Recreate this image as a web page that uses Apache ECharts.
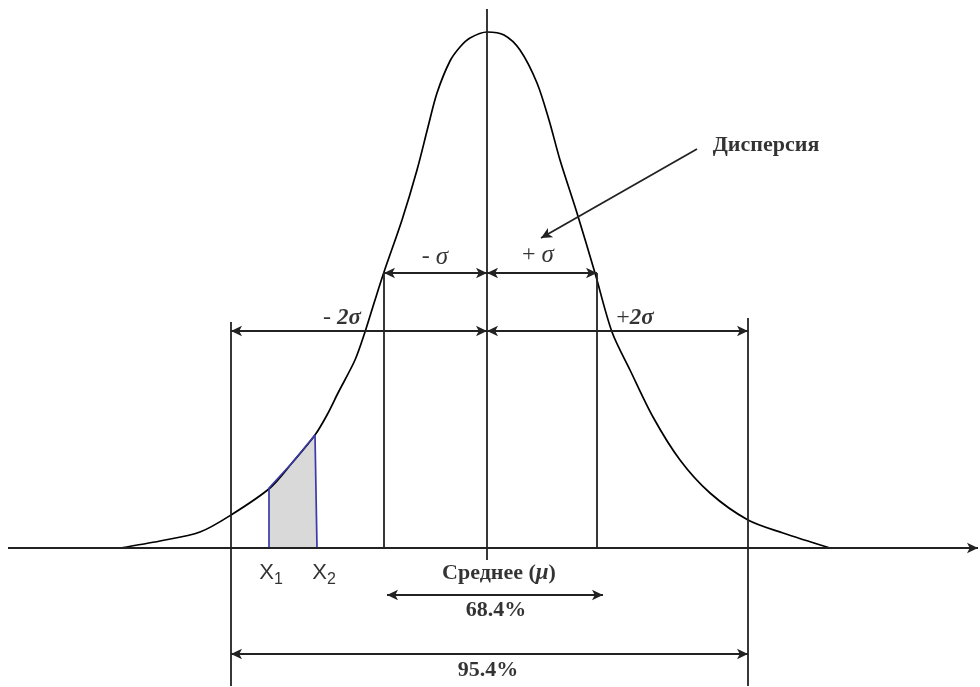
<!DOCTYPE html>
<html>
<head>
<meta charset="utf-8">
<script src="https://cdn.jsdelivr.net/npm/echarts@6/dist/echarts.min.js"></script>
<style>
  html, body { margin: 0; background: #fff; }
  #chart { width: 980px; height: 687px; }
</style>
</head>
<body>
<div id="chart"></div>
<script>
// Units: mean at x = 0, baseline at y = 0.
const curveX = [-3.67, -3.27, -2.87, -2.56, -2.17, -1.95, -1.72, -1.60, -1.49, -1.32, -1.22, -1.12, -1.03,
  -0.85, -0.70, -0.59, -0.50, -0.37, -0.27, -0.17, 0, 0.17, 0.33, 0.50, 0.62, 0.73, 0.90, 1.08, 1.25, 1.43,
  1.66, 1.93, 2.23, 2.61, 2.96, 3.43];
const curveY = [0, 0.07, 0.16, 0.33, 0.60, 0.85, 1.13, 1.33, 1.55, 1.88, 2.16, 2.48, 2.76,
  3.28, 3.78, 4.21, 4.55, 4.87, 5.01, 5.10, 5.16, 5.13, 4.98, 4.65, 4.28, 3.88, 3.35, 2.75, 2.16, 1.78,
  1.31, 0.88, 0.55, 0.28, 0.15, 0];

// shaded slice between X1 and X2
const sliceX = [-2.18, -2.18, -1.95, -1.72, -1.70];
const sliceY = [0, 0.60, 0.85, 1.13, 0];

// vertical guides
const guideX = [-2.56, -1.03, 0, 1.10, 2.61];
const guideTop = [2.26, 2.76, 5.39, 2.75, 2.30];
const guideBottom = [-1.38, 0, -0.12, 0, -1.38];

// double-headed span arrows
const spanY = [2.75, 2.75, 2.17, 2.17, -0.47, -1.06];
const spanFrom = [-1.03, 0, -2.56, 0, -1.00, -2.56];
const spanTo = [0, 1.10, 0, 2.61, 1.16, 2.61];

const baseFrom = [-4.79, 0];
const baseTo = [4.91, 0];
const pointerFrom = [2.10, 3.99];
const pointerTo = [0.54, 3.10];

const labelText = ['{n|- }{i|σ}', '{n|+ }{i|σ}', '{n|- }{bi|2σ}', '{n|+}{bi|2σ}', '{b|Дисперсия}',
  '{b|Среднее (}{bi|μ}{b|)}', '{b|68.4%}', '{b|95.4%}', '{s|X}{sub|1}', '{s|X}{sub|2}'];
const labelX = [-0.52, 0.51, -1.45, 1.48, 2.79, 0.12, 0.09, 0.01, -2.16, -1.63];
const labelY = [2.91, 2.93, 2.30, 2.30, 4.03, -0.25, -0.62, -1.22, -0.25, -0.25];

const SERIF = '"Liberation Serif", "DejaVu Serif", serif';
const SANS = '"Liberation Sans", Arial, sans-serif';
const INK = '#000';
const GUIDE = '#222';

const guideLines = guideX.map((x, i) => [
  { coord: [x, guideTop[i]], symbol: 'none' },
  { coord: [x, guideBottom[i]], symbol: 'none' },
]);
const spanLines = spanY.map((y, i) => [
  { coord: [spanFrom[i], y], symbol: 'arrow' },
  { coord: [spanTo[i], y], symbol: 'arrow' },
]);
const otherLines = [
  [{ coord: baseFrom, symbol: 'none' }, { coord: baseTo, symbol: 'arrow' }],
  [{ coord: pointerFrom, symbol: 'none' }, { coord: pointerTo, symbol: 'arrow' }],
];

const chart = echarts.init(document.getElementById('chart'));
chart.setOption({
  animation: false,
  backgroundColor: '#fff',
  grid: { left: 0, right: 0, top: 0, bottom: 0 },
  xAxis: { type: 'value', min: -4.87, max: 4.93, show: false },
  yAxis: { type: 'value', min: -1.39, max: 5.48, show: false },
  series: [
    {
      type: 'line',
      data: [],
      silent: true,
      markLine: {
        silent: true,
        animation: false,
        symbol: ['none', 'none'],
        symbolSize: [8, 11],
        label: { show: false },
        lineStyle: { color: GUIDE, width: 1.8, type: 'solid' },
        emphasis: { disabled: true },
        data: [...guideLines, ...spanLines, ...otherLines],
      },
    },
    {
      type: 'line',
      data: curveX.map((x, i) => [x, curveY[i]]),
      smooth: 0.3,
      showSymbol: false,
      silent: true,
      lineStyle: { color: INK, width: 1.7 },
    },
    {
      type: 'line',
      data: sliceX.map((x, i) => [x, sliceY[i]]),
      showSymbol: false,
      silent: true,
      lineStyle: { color: '#3a3aa8', width: 1.7 },
      areaStyle: { color: '#d9d9d9', opacity: 1 },
    },
    {
      type: 'scatter',
      symbolSize: 0,
      silent: true,
      data: labelX.map((x, i) => ({
        value: [x, labelY[i]],
        label: { formatter: labelText[i] },
      })),
      label: {
        show: true,
        position: 'inside',
        color: INK,
        rich: {
          n: { fontFamily: SERIF, fontSize: 24, color: INK },
          i: { fontFamily: SERIF, fontSize: 25, fontStyle: 'italic', color: INK },
          bi: { fontFamily: SERIF, fontSize: 23, fontStyle: 'italic', fontWeight: 'bold', color: INK },
          b: { fontFamily: SERIF, fontSize: 22, fontWeight: 'bold', color: INK },
          s: { fontFamily: SANS, fontSize: 22, color: INK },
          sub: { fontFamily: SANS, fontSize: 16, color: INK, padding: [13, 0, 0, 0] },
        },
      },
    },
  ],
});

window.addEventListener('resize', () => chart.resize());
</script>
</body>
</html>
